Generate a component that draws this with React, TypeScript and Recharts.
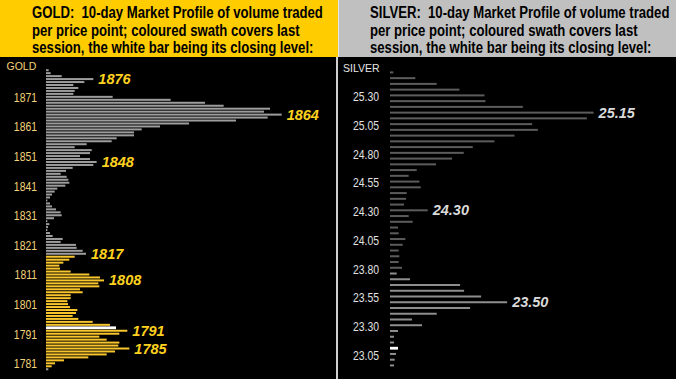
import React from "react";
import { BarChart, Bar, XAxis, YAxis } from "recharts";

// price rows of the 10-day gold profile, top to bottom
const GOLD_PRICES = [
  1879, 1878, 1877, 1876, 1875, 1874, 1873, 1872, 1871, 1870,
  1869, 1868, 1867, 1866, 1865, 1864, 1863, 1862, 1861, 1860,
  1859, 1858, 1857, 1856, 1855, 1854, 1853, 1852, 1851, 1850,
  1849, 1848, 1847, 1846, 1845, 1844, 1843, 1842, 1841, 1840,
  1839, 1838, 1837, 1836, 1835, 1834, 1833, 1832, 1831, 1830,
  1829, 1828, 1827, 1826, 1825, 1824, 1823, 1822, 1821, 1820,
  1819, 1818, 1817, 1816, 1815, 1814, 1813, 1812, 1811, 1810,
  1809, 1808, 1807, 1806, 1805, 1804, 1803, 1802, 1801, 1800,
  1799, 1798, 1797, 1796, 1795, 1794, 1793, 1792, 1791, 1790,
  1789, 1788, 1787, 1786, 1785, 1784, 1783, 1782, 1781, 1780,
  1779, 1778,
];
const GOLD_VOLUME = [
  8, 14, 47, 142, 115, 82, 97, 86, 82, 200,
  374, 477, 533, 672, 654, 707, 665, 570, 429, 342,
  287, 264, 264, 212, 197, 122, 86, 137, 132, 102,
  132, 152, 142, 80, 60, 44, 62, 67, 70, 58,
  34, 26, 18, 12, 4, 12, 18, 30, 44, 47,
  24, 4, 10, 6, 4, 12, 20, 50, 44, 90,
  92, 110, 120, 86, 70, 52, 40, 42, 74, 130,
  162, 174, 157, 160, 102, 110, 74, 74, 64, 66,
  72, 94, 90, 80, 97, 140, 192, 210, 244, 220,
  160, 182, 220, 217, 250, 207, 182, 127, 54, 27,
  17, 7,
];
const GOLD_TICKS = [1871, 1861, 1851, 1841, 1831, 1821, 1811, 1801, 1791, 1781];
const GOLD_CALLOUTS = [1876, 1864, 1848, 1817, 1808, 1791, 1785];
const GOLD_SESSION_LOW = 1779;
const GOLD_SESSION_HIGH = 1816;
const GOLD_CLOSE = 1792;

const SILVER_PRICES = [
  "25.50", "25.45", "25.40", "25.35", "25.30", "25.25", "25.20", "25.15", "25.10", "25.05",
  "25.00", "24.95", "24.90", "24.85", "24.80", "24.75", "24.70", "24.65", "24.60", "24.55",
  "24.50", "24.45", "24.40", "24.35", "24.30", "24.25", "24.20", "24.15", "24.10", "24.05",
  "24.00", "23.95", "23.90", "23.85", "23.80", "23.75", "23.70", "23.65", "23.60", "23.55",
  "23.50", "23.45", "23.40", "23.35", "23.30", "23.25", "23.20", "23.15", "23.10", "23.05",
  "23.00", "22.95",
];
const SILVER_VOLUME = [
  10, 76, 140, 208, 283, 286, 398, 610, 590, 426,
  443, 373, 313, 248, 221, 186, 138, 80, 56, 88,
  92, 50, 48, 42, 113, 56, 68, 24, 26, 46,
  38, 26, 28, 26, 36, 20, 60, 210, 222, 273,
  351, 240, 140, 66, 96, 24, 12, 12, 24, 18,
  14, 12,
];
const SILVER_TICKS = ["25.30", "25.05", "24.80", "24.55", "24.30", "24.05", "23.80", "23.55", "23.30", "23.05"];
const SILVER_CALLOUTS = ["25.15", "24.30", "23.50"];
const SILVER_SESSION_LOW = 22.95;
const SILVER_SESSION_HIGH = 23.75;
const SILVER_CLOSE = "23.10";

const SANS = "'Liberation Sans', Arial, sans-serif";
const NARROW_SCALE = 0.82; // no Arial Narrow here, so squeeze Liberation Sans

const goldData = GOLD_PRICES.map((price, i) => ({
  price,
  volume: GOLD_VOLUME[i],
  fill:
    price === GOLD_CLOSE
      ? "#ffffff"
      : price >= GOLD_SESSION_LOW && price <= GOLD_SESSION_HIGH
      ? "#f8c52c"
      : "#9d9d9d",
  callout: GOLD_CALLOUTS.includes(price),
}));

const silverData = SILVER_PRICES.map((price, i) => {
  const p = parseFloat(price);
  return {
    price,
    volume: SILVER_VOLUME[i],
    fill:
      price === SILVER_CLOSE
        ? "#ffffff"
        : p >= SILVER_SESSION_LOW - 0.001 && p <= SILVER_SESSION_HIGH + 0.001
        ? "#8e8e8e"
        : "#5c5c5c",
    callout: SILVER_CALLOUTS.includes(price),
  };
});

function makeShape(textColor: string) {
  return (props: any) => {
    const { x, y, width, height, payload } = props;
    const isClose = payload.fill === "#ffffff";
    const t = isClose ? 2.8 : 2;
    const cy = y + height / 2;
    return (
      <g>
        <rect x={x} y={cy - t / 2} width={Math.max(width, 0)} height={t} fill={payload.fill} />
        {payload.callout && (
          <text
            x={x + width + 5}
            y={cy}
            dominantBaseline="central"
            fill={textColor}
            fontFamily={SANS}
            fontWeight="bold"
            fontStyle="italic"
            fontSize={14.5}
          >
            {payload.price}
          </text>
        )}
      </g>
    );
  };
}

function makeTick(ticks: any[], color: string, dy: number) {
  return (props: any) => {
    const { x, y, payload } = props;
    if (!ticks.includes(payload.value)) return <g />;
    return (
      <text
        transform={`translate(${x},${y + dy}) scale(${NARROW_SCALE},1)`}
        textAnchor="end"
        dominantBaseline="central"
        fill={color}
        fontFamily={SANS}
        fontSize={12.7}
      >
        {payload.value}
      </text>
    );
  };
}

const headerBox: React.CSSProperties = {
  position: "absolute",
  top: 0,
  height: 57,
  boxSizing: "border-box",
  paddingTop: 4,
  paddingLeft: 31.5,
  overflow: "hidden",
};

const headerText: React.CSSProperties = {
  display: "inline-block",
  transform: `scaleX(${NARROW_SCALE})`,
  transformOrigin: "0 0",
  fontFamily: SANS,
  fontWeight: "bold",
  fontSize: 16,
  lineHeight: "17.5px",
  color: "#000",
  whiteSpace: "pre",
};

export default function App() {
  return (
    <div style={{ position: "absolute", left: 0, top: 0, width: 676, height: 379, background: "#000", overflow: "hidden" }}>
      <div style={{ ...headerBox, left: 0, width: 338, background: "#ffcc00" }}>
        <span style={headerText}>
          {"GOLD:  10-day Market Profile of volume traded\nper price point; coloured swath covers last\nsession, the white bar being its closing level:"}
        </span>
      </div>
      <div style={{ ...headerBox, left: 338, width: 338, paddingLeft: 31, background: "#c0c0c0", borderLeft: "1px solid #e6e6e6" }}>
        <span style={headerText}>
          {"SILVER:  10-day Market Profile of volume traded\nper price point; coloured swath covers last\nsession, the white bar being its closing level:"}
        </span>
      </div>
      <div style={{ position: "absolute", left: 336, top: 57, width: 2, height: 322, background: "#cfcfcf" }} />

      <div style={{ position: "absolute", left: 6.5, top: 60, fontFamily: SANS, fontSize: 10.5, lineHeight: "12px", color: "#f3d37a" }}>GOLD</div>
      <div style={{ position: "absolute", left: 343, top: 62, fontFamily: SANS, fontSize: 10.5, lineHeight: "12px", color: "#e6e6e6" }}>SILVER</div>

      <div style={{ position: "absolute", left: 0, top: 58 }}>
        <BarChart
          width={336}
          height={321}
          data={goldData}
          layout="vertical"
          margin={{ top: 11.2, right: 0, bottom: 7.8, left: 0 }}
          barSize={2}
        >
          <XAxis type="number" hide domain={[0, 870]} />
          <YAxis
            type="category"
            dataKey="price"
            width={46}
            axisLine={false}
            tickLine={false}
            tickSize={0}
            tickMargin={9}
            interval={0}
            tick={makeTick(GOLD_TICKS, "#f3d37a", 2.4)}
          />
          <Bar dataKey="volume" isAnimationActive={false} shape={makeShape("#ffd21f")} />
        </BarChart>
      </div>

      <div style={{ position: "absolute", left: 338, top: 58 }}>
        <BarChart
          width={338}
          height={321}
          data={silverData}
          layout="vertical"
          margin={{ top: 11.4, right: 0, bottom: 10.8, left: 0 }}
          barSize={2}
        >
          <XAxis type="number" hide domain={[0, 857]} />
          <YAxis
            type="category"
            dataKey="price"
            width={52}
            axisLine={false}
            tickLine={false}
            tickSize={0}
            tickMargin={11}
            interval={0}
            tick={makeTick(SILVER_TICKS, "#e2e2e2", 1)}
          />
          <Bar dataKey="volume" isAnimationActive={false} shape={makeShape("#dadada")} />
        </BarChart>
      </div>
    </div>
  );
}
